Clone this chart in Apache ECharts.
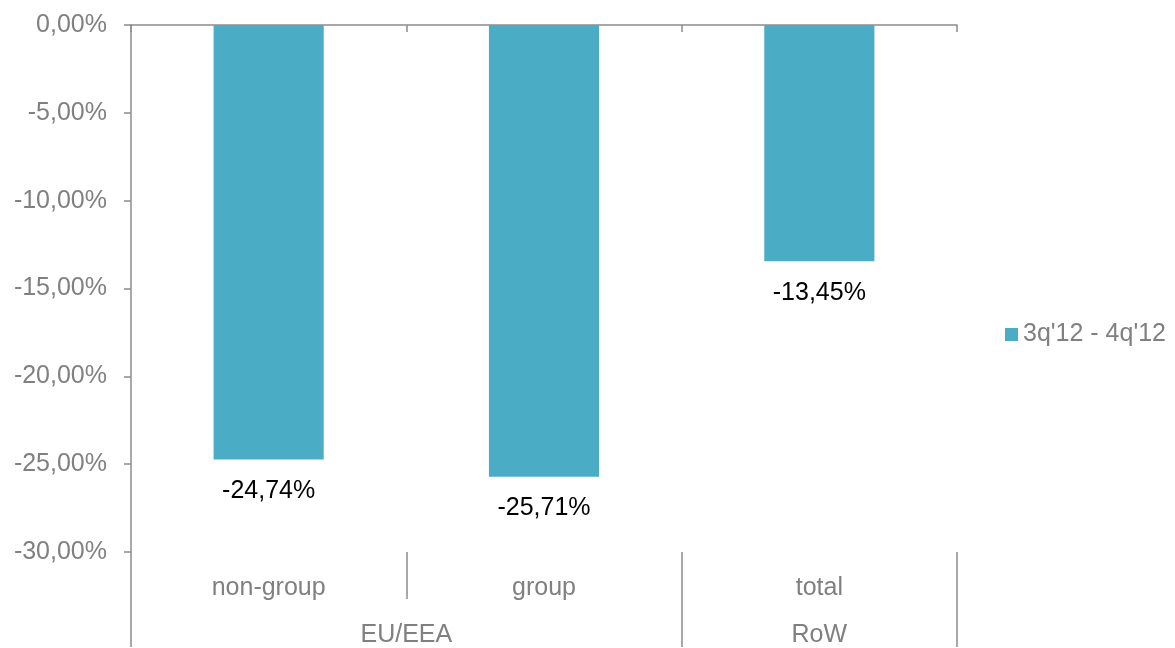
<!DOCTYPE html>
<html>
<head>
<meta charset="utf-8">
<script src="https://cdn.jsdelivr.net/npm/echarts@6/dist/echarts.min.js"></script>
<style>
  html, body { margin: 0; padding: 0; background: #fff; }
  #chart { width: 1175px; height: 648px; }
</style>
</head>
<body>
<div id="chart"></div>
<script>
// categories (first level) and their groups (second level)
const categories = ['non-group', 'group', 'total']
// second-level labels sit on a 7-point scale: group centres at 2 and 5, boundaries at 0, 4, 6
const groupSlots = ['', '', 'EU/EEA', '', '', 'RoW', '']
const groupBoundaries = [0, 4, 6]
const seriesName = "3q'12 - 4q'12"
const values = [-24.74, -25.71, -13.45]

const axisGray = '#8c8c8c'
const textGray = '#808080'
const barColor = '#4bacc6'

const fmt = v => v.toFixed(2).replace('.', ',') + '%'

const chart = echarts.init(document.getElementById('chart'))
chart.setOption({
  animation: false,
  textStyle: { fontFamily: 'Liberation Sans, Arial, sans-serif' },
  grid: { left: 131, right: 218, top: 25, bottom: 95 },
  legend: {
    data: [seriesName],
    right: 4,
    top: 317,
    icon: 'rect',
    itemWidth: 13,
    itemHeight: 13,
    itemGap: 6,
    textStyle: { color: textGray, fontSize: 25 }
  },
  xAxis: [
    {
      // axis line at the zero level, drawn on top
      type: 'category',
      data: categories,
      position: 'top',
      axisLine: { show: true, lineStyle: { color: axisGray, width: 1.5 } },
      axisTick: { show: true, inside: true, length: 7, lineStyle: { color: axisGray, width: 1.5 } },
      axisLabel: { show: false },
      splitLine: { show: false }
    },
    {
      // first-level labels
      type: 'category',
      data: categories,
      position: 'bottom',
      axisLine: { show: false },
      axisTick: { show: true, length: 47, lineStyle: { color: axisGray, width: 1.5 } },
      axisLabel: { color: textGray, fontSize: 25, margin: 24 },
      splitLine: { show: false }
    },
    {
      // second-level group labels
      type: 'category',
      data: groupSlots,
      boundaryGap: false,
      position: 'bottom',
      offset: 47,
      axisLine: { show: false },
      axisTick: {
        show: true,
        length: 48,
        interval: idx => groupBoundaries.includes(idx),
        lineStyle: { color: axisGray, width: 1.5 }
      },
      axisLabel: { color: textGray, fontSize: 25, margin: 24, interval: 0 },
      splitLine: { show: false }
    }
  ],
  yAxis: {
    type: 'value',
    min: -30,
    max: 0,
    interval: 5,
    axisLine: { show: true, lineStyle: { color: axisGray, width: 1.5 } },
    axisTick: { show: true, length: 7, lineStyle: { color: axisGray, width: 1.5 } },
    axisLabel: { color: textGray, fontSize: 25, margin: 24, formatter: fmt },
    splitLine: { show: false }
  },
  series: [
    {
      name: seriesName,
      type: 'bar',
      xAxisIndex: 0,
      data: values,
      barWidth: '40%',
      itemStyle: { color: barColor },
      label: {
        show: true,
        position: 'bottom',
        distance: 19,
        color: '#000',
        fontSize: 25,
        formatter: p => fmt(p.value)
      }
    }
  ]
})
</script>
</body>
</html>
